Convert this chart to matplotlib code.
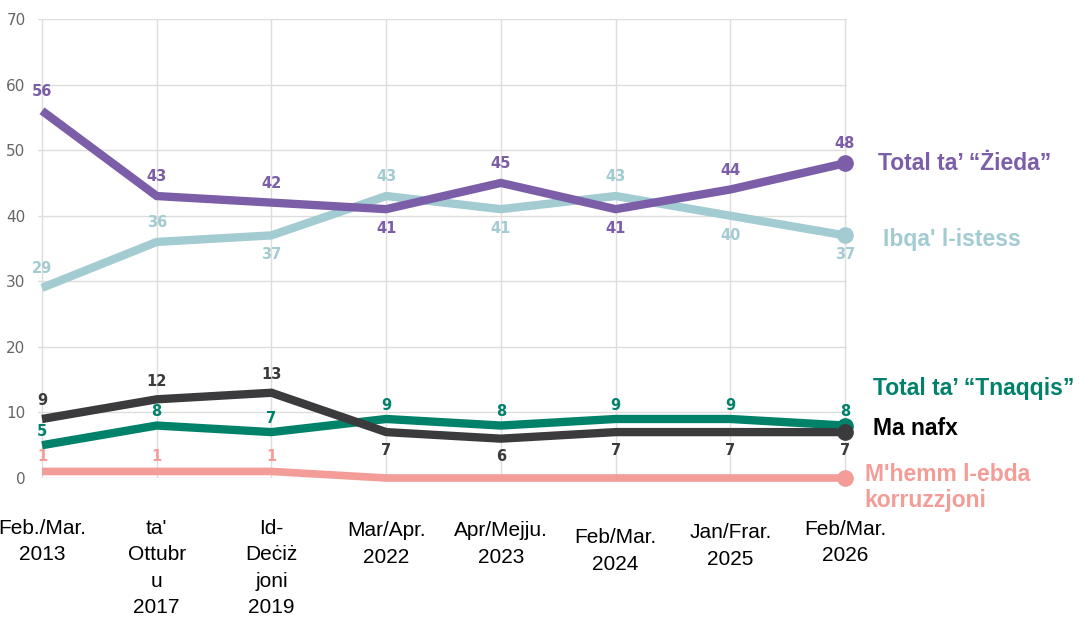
import matplotlib.pyplot as plt

# survey waves
waves = ["Feb./Mar.\n2013", "ta'\nOttubr\nu\n2017", "Id-\nDeċiż\njoni\n2019",
         "Mar/Apr.\n2022", "Apr/Mejju.\n2023", "Feb/Mar.\n2024",
         "Jan/Frar.\n2025", "Feb/Mar.\n2026"]

zieda = [56, 43, 42, 41, 45, 41, 44, 48]
istess = [29, 36, 37, 43, 41, 43, 40, 37]
tnaqqis = [5, 8, 7, 9, 8, 9, 9, 8]
ma_nafx = [9, 12, 13, 7, 6, 7, 7, 7]
korruzzjoni = [1, 1, 1, 0, 0, 0, 0, 0]

# where each value label goes: 1 = above, -1 = below, 0 = none
zieda_pos = [1, 1, 1, -1, 1, -1, 1, 1]
istess_pos = [1, 1, -1, 1, -1, 1, -1, -1]
tnaqqis_pos = [1, 1, 1, 1, 1, 1, 1, 1]
ma_nafx_pos = [1, 1, 1, -1, -1, -1, -1, -1]
korr_pos = [1, 1, 1, 0, 0, 0, 0, 0]

PURPLE = "#7B5EA7"
LBLUE = "#A3CBD2"
GREEN = "#00816A"
DARK = "#3B3A3C"
PINK = "#F49C98"

fig = plt.figure(figsize=(10.84, 6.18), dpi=100)
ax = fig.add_axes([38 / 1084, 140 / 618, 809 / 1084, 459 / 618])

x = list(range(len(waves)))
ax.set_xlim(-0.035, 7.017)
ax.set_ylim(0, 70)

series = [
    (korruzzjoni, korr_pos, PINK, 5.5, 11),
    (istess, istess_pos, LBLUE, 6, 14),
    (zieda, zieda_pos, PURPLE, 6, 14),
    (tnaqqis, tnaqqis_pos, GREEN, 6, 10),
    (ma_nafx, ma_nafx_pos, DARK, 6, 13),
]

for vals, pos, col, lw, off in series:
    ax.plot(x, vals, color=col, lw=lw, solid_capstyle="butt",
            solid_joinstyle="miter", clip_on=False, zorder=3)
    ax.plot(x[-1], vals[-1], "o", color=col, ms=11, clip_on=False, zorder=4)
    for xi, v, p in zip(x, vals, pos):
        if p == 0:
            continue
        ax.annotate(str(v), (xi, v), xytext=(0, off * p), textcoords="offset points",
                    ha="center", va="center", color=col, fontsize=10.5,
                    fontweight="bold", annotation_clip=False, zorder=5)

# grid
ax.set_yticks(range(0, 71, 10))
ax.set_xticks(x)
ax.grid(True, color="#DDDDDD", lw=1)
ax.set_axisbelow(True)
for s in ax.spines.values():
    s.set_visible(False)
ax.tick_params(axis="y", length=0, pad=9, labelsize=11, labelcolor="#666666")
ax.tick_params(axis="x", length=0, labelbottom=False)

# x labels (tops differ a little in the original)
label_top = [-6.2, -6.2, -6.2, -6.6, -6.6, -7.7, -6.9, -6.4]
for xi, lab, yt in zip(x, waves, label_top):
    ax.text(xi, yt, lab, ha="center", va="top", fontsize=15,
            family="Liberation Sans", linespacing=1.5, clip_on=False)

# series names on the right
ax.text(7.29, 48, "Total ta’ “Żieda”", color=PURPLE, fontsize=16.5,
        fontweight="bold", family="Liberation Sans", va="center", clip_on=False)
ax.text(7.33, 36.4, "Ibqa' l-istess", color=LBLUE, fontsize=16.5,
        fontweight="bold", family="Liberation Sans", va="center", clip_on=False)
ax.text(7.24, 13.7, "Total ta’ “Tnaqqis”", color=GREEN, fontsize=16.5,
        fontweight="bold", family="Liberation Sans", va="center", clip_on=False)
ax.text(7.24, 7.6, "Ma nafx", color="black", fontsize=16.5,
        fontweight="bold", family="Liberation Sans", va="center", clip_on=False)
ax.text(7.17, -1.5, "M'hemm l-ebda\nkorruzzjoni", color=PINK, fontsize=16.5,
        fontweight="bold", family="Liberation Sans", va="center",
        linespacing=1.15, clip_on=False)

fig.savefig("out.png", dpi=100)
